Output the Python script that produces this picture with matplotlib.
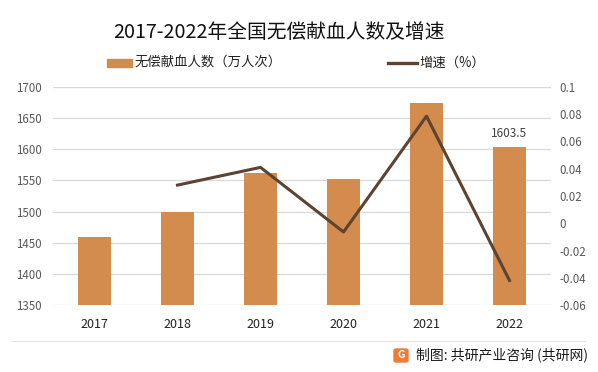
import matplotlib
matplotlib.use("Agg")
import matplotlib.pyplot as plt
import matplotlib.patches as patches
from matplotlib.lines import Line2D
import numpy as np

plt.rcParams['font.family'] = ['Noto Sans CJK SC', 'DejaVu Sans']

# data
years = ['2017', '2018', '2019', '2020', '2021', '2022']
donors = [1459, 1500, 1562, 1552, 1674, 1603.5]   # 万人次
growth = [None, 0.028, 0.041, -0.0064, 0.0786, -0.042]
left_ticks = [1350, 1400, 1450, 1500, 1550, 1600, 1650, 1700]
right_ticks = [-0.06, -0.04, -0.02, 0, 0.02, 0.04, 0.06, 0.08, 0.1]
right_labels = ['-0.06', '-0.04', '-0.02', '0', '0.02', '0.04', '0.06', '0.08', '0.1']

bar_color = '#D48B4E'
line_color = '#5E4330'
grid_color = '#D9D9D9'
tick_color = '#595959'

fig = plt.figure(figsize=(5.98, 3.72), dpi=100)
ax = fig.add_axes([53 / 598, 1 - 305 / 372, 498 / 598, 218 / 372])

x = np.arange(len(years))
ax.bar(x, donors, width=0.4, color=bar_color, zorder=2)
ax.set_xlim(-0.5, len(years) - 0.5)
ax.set_ylim(1350, 1700)
ax.set_yticks(left_ticks)
ax.set_xticks(x)
ax.set_xticklabels(years, fontsize=9, color='#222222')
ax.tick_params(axis='y', labelsize=8.3, colors=tick_color, length=0, pad=8)
ax.tick_params(axis='x', length=0, pad=9)
ax.grid(axis='y', color=grid_color, linewidth=0.9, zorder=0)
for s in ax.spines.values():
    s.set_visible(False)

# label on the last bar
ax.text(x[-1], donors[-1] + 12, '1603.5', ha='center', va='bottom',
        fontsize=8.5, color='#404040')

ax2 = ax.twinx()
gx = [i for i, g in enumerate(growth) if g is not None]
gy = [g for g in growth if g is not None]
ax2.plot(gx, gy, color=line_color, linewidth=2.2, zorder=3)
ax2.set_ylim(-0.06, 0.1)
ax2.set_yticks(right_ticks)
ax2.set_yticklabels(right_labels)
ax2.tick_params(axis='y', labelsize=8.3, colors=tick_color, length=0, pad=6)
for s in ax2.spines.values():
    s.set_visible(False)

# title
fig.text(279 / 598, 1 - 32 / 372, '2017-2022年全国无偿献血人数及增速', ha='center', va='center',
         fontsize=14.2, color='#111111')

# legend
fig.patches.append(patches.Rectangle((107 / 598, 1 - 67 / 372), 25 / 598, 8 / 372,
                                     transform=fig.transFigure, color=bar_color))
fig.text(135 / 598, 1 - 63 / 372, '无偿献血人数（万人次）', ha='left', va='center',
         fontsize=9.6, color='#222222')
fig.add_artist(Line2D([388 / 598, 417 / 598], [1 - 63 / 372, 1 - 63 / 372],
                      transform=fig.transFigure, color=line_color, linewidth=2.4))
fig.text(419 / 598, 1 - 63 / 372, '增速（%）', ha='left', va='center',
         fontsize=9.6, color='#222222')

# footer
fig.add_artist(Line2D([12 / 598, 585 / 598], [1 - 341 / 372, 1 - 341 / 372],
                      transform=fig.transFigure, color='#E3E3E3', linewidth=0.8))
fig.patches.append(patches.FancyBboxPatch((394 / 598, 1 - 362 / 372), 14 / 598, 13 / 372,
                                          boxstyle='round,pad=0,rounding_size=0.004',
                                          transform=fig.transFigure, color='#F07A3A'))
fig.text(401 / 598, 1 - 355.5 / 372, 'G', ha='center', va='center', fontsize=7.5,
         color='white', fontweight='bold')
fig.text(416 / 598, 1 - 355 / 372, '制图: 共研产业咨询 (共研网)', ha='left', va='center',
         fontsize=10, color='#1A1A1A', fontweight='medium')

fig.savefig('out.png', dpi=100)
